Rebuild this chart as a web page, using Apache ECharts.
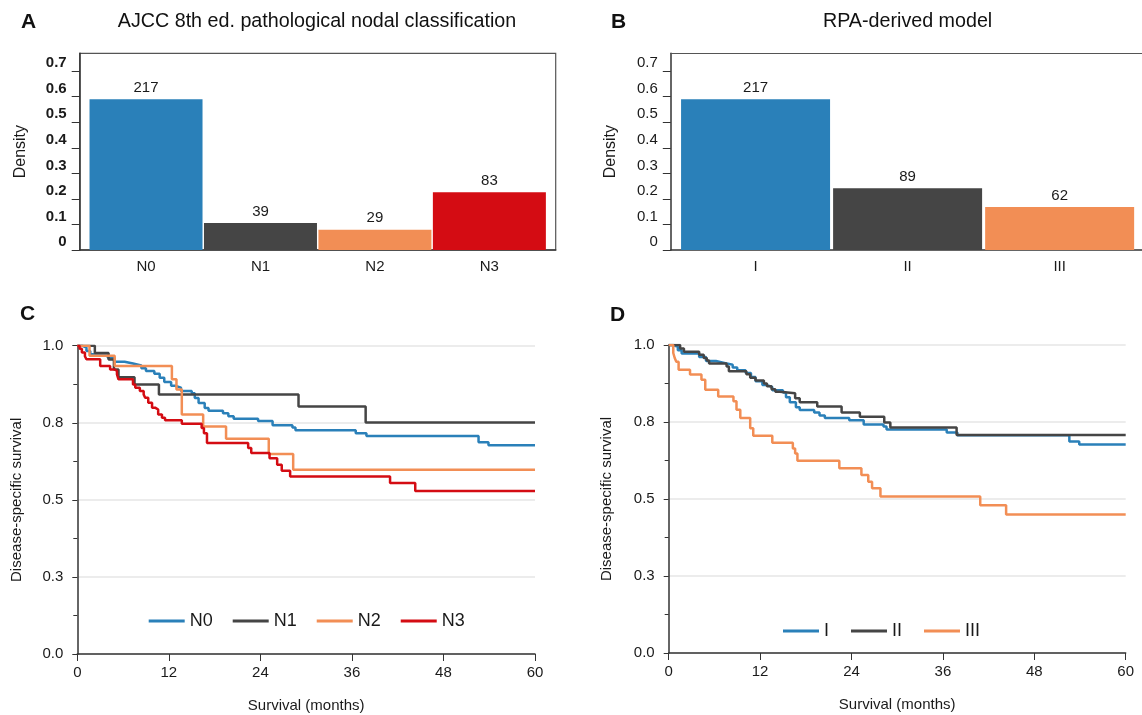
<!DOCTYPE html>
<html>
<head>
<meta charset="utf-8">
<script src="https://cdn.jsdelivr.net/npm/echarts@6/dist/echarts.min.js"></script>
<style>
  html, body { margin: 0; padding: 0; background: #fff; }
  #chart { width: 1142px; height: 715px; }
</style>
</head>
<body>
<div id="chart"></div>
<script>
// panel A / B: group sizes and densities
const catsA = ['N0', 'N1', 'N2', 'N3']
const countsA = [217, 39, 29, 83]
const densityA = [0.59, 0.106, 0.079, 0.226]

const catsB = ['I', 'II', 'III']
const countsB = [217, 89, 62]
const densityB = [0.59, 0.242, 0.168]

const densityTicks = [0, 0.1, 0.2, 0.3, 0.4, 0.5, 0.6, 0.7]

// panel C / D: Kaplan-Meier steps, [month, survival]
const survN0 = [[0, 1], [0.6, 0.994], [1.2, 0.983], [1.7, 0.972], [4.0, 0.961], [4.9, 0.948], [6.2, 0.942], [7.3, 0.936], [8.4, 0.927], [9.0, 0.918], [10.1, 0.909], [10.8, 0.896], [11.4, 0.882], [12.3, 0.870], [12.8, 0.864], [13.6, 0.853], [15.0, 0.846], [15.4, 0.830], [15.9, 0.814], [16.7, 0.798], [17.2, 0.789], [19.1, 0.781], [19.8, 0.771], [20.5, 0.763], [23.7, 0.756], [25.6, 0.742], [28.2, 0.735], [28.6, 0.726], [36.5, 0.716], [37.9, 0.707], [52.6, 0.687], [53.9, 0.677], [60, 0.677]]
const survN1 = [[0, 1], [2.3, 0.976], [4.1, 0.955], [4.8, 0.923], [5.4, 0.898], [7.5, 0.874], [10.7, 0.842], [29.0, 0.803], [37.8, 0.751], [60, 0.751]]
const survN2 = [[0, 1], [1.6, 0.967], [4.9, 0.934], [12.4, 0.891], [13.0, 0.858], [13.7, 0.777], [16.5, 0.738], [19.5, 0.698], [25.1, 0.649], [28.3, 0.598], [60, 0.598]]
const survN3 = [[0, 1], [0.3, 0.99], [0.6, 0.978], [1.0, 0.966], [1.2, 0.956], [3.0, 0.934], [4.3, 0.923], [4.9, 0.918], [5.2, 0.907], [5.4, 0.891], [7.3, 0.874], [7.6, 0.864], [8.2, 0.853], [8.7, 0.842], [8.9, 0.831], [9.3, 0.815], [9.8, 0.799], [10.2, 0.793], [10.6, 0.777], [11.1, 0.766], [11.5, 0.758], [13.7, 0.747], [16.3, 0.733], [16.6, 0.716], [17.0, 0.684], [22.4, 0.668], [22.8, 0.652], [25.2, 0.635], [26.2, 0.614], [26.8, 0.594], [27.9, 0.576], [41.0, 0.555], [44.3, 0.529], [60, 0.529]]

// group I is the same 217 patients as N0
const survI = survN0
const survII = [[0, 1], [1.5, 0.989], [2.0, 0.978], [4.0, 0.968], [4.6, 0.958], [5.0, 0.95], [5.3, 0.94], [7.6, 0.93], [7.9, 0.915], [10.2, 0.905], [10.7, 0.894], [11.4, 0.885], [12.5, 0.875], [12.9, 0.866], [13.5, 0.856], [14.0, 0.848], [14.6, 0.843], [16.6, 0.827], [17.2, 0.814], [19.5, 0.8], [22.7, 0.781], [25.1, 0.767], [28.3, 0.748], [29.1, 0.732], [37.8, 0.708], [60, 0.708]]
const survIII = [[0, 1], [0.6, 0.974], [0.8, 0.957], [1.0, 0.946], [1.3, 0.92], [2.8, 0.904], [4.3, 0.887], [4.8, 0.855], [6.5, 0.833], [8.5, 0.817], [8.9, 0.79], [9.4, 0.763], [10.7, 0.73], [11.1, 0.705], [13.6, 0.683], [16.3, 0.664], [16.6, 0.648], [16.9, 0.624], [22.4, 0.6], [25.3, 0.578], [26.2, 0.556], [26.7, 0.535], [27.8, 0.508], [40.9, 0.48], [44.3, 0.45], [60, 0.45]]

const COLORS = {
  blue: '#2a80b9',
  dark: '#454545',
  orange: '#f28e55',
  red: '#d40c13',
}
const FONT = "'Liberation Sans', Arial, sans-serif"
const TEXT = '#1a1a1a'
const AXIS = '#333333'
const FRAME = '#555555'

const chart = echarts.init(document.getElementById('chart'), null, { renderer: 'canvas' })

// bar panel axes (value x so the bars keep a small pad to the frame)
const barXAxis = (gridIndex, cats, min, max) => ({
  type: 'value',
  gridIndex,
  min,
  max,
  axisLine: { show: true, onZero: false, lineStyle: { color: AXIS, width: 1.5 } },
  axisTick: { show: false },
  splitLine: { show: false },
  axisLabel: {
    customValues: cats.map((c, i) => i + 0.5),
    formatter: (v) => cats[Math.round(v - 0.5)],
    fontSize: 15,
    color: TEXT,
    margin: 9,
  },
})

// top border of panel B (its right edge runs off the page)
const frameXAxis = (gridIndex, min, max) => ({
  type: 'value',
  gridIndex,
  position: 'top',
  min,
  max,
  axisLine: { show: true, onZero: false, lineStyle: { color: FRAME, width: 1.2 } },
  axisTick: { show: false },
  axisLabel: { show: false },
  splitLine: { show: false },
})

const barYAxis = (gridIndex, bold, nameGap) => ({
  type: 'value',
  gridIndex,
  min: 0,
  max: 0.77,
  name: 'Density',
  nameLocation: 'middle',
  nameGap,
  nameTextStyle: { fontSize: 16, color: TEXT },
  axisLine: { show: true, onZero: false, lineStyle: { color: AXIS, width: 1.5 } },
  axisTick: { show: true, length: 8, customValues: densityTicks, lineStyle: { color: AXIS } },
  splitLine: { show: false },
  axisLabel: {
    customValues: densityTicks,
    formatter: (v) => (v === 0 ? '0' : v.toFixed(1)),
    fontSize: 15,
    fontWeight: bold ? 'bold' : 'normal',
    color: TEXT,
    margin: 13,
    verticalAlign: 'bottom',
    lineHeight: 16,
  },
})

const kmXAxis = (gridIndex) => ({
  type: 'value',
  gridIndex,
  min: 0,
  max: 60,
  interval: 12,
  name: 'Survival (months)',
  nameLocation: 'middle',
  nameGap: 44,
  nameTextStyle: { fontSize: 15, color: TEXT },
  axisLine: { show: true, lineStyle: { color: AXIS, width: 1.5 } },
  axisTick: { show: true, length: 7, lineStyle: { color: AXIS } },
  splitLine: { show: false },
  axisLabel: { fontSize: 15, color: TEXT, margin: 11 },
})

const kmYAxis = (gridIndex, nameGap) => ({
  type: 'value',
  gridIndex,
  min: 0,
  max: 1,
  interval: 0.25,
  name: 'Disease-specific survival',
  nameLocation: 'middle',
  nameGap,
  nameTextStyle: { fontSize: 15, color: TEXT },
  axisLine: { show: true, lineStyle: { color: AXIS, width: 1.5 } },
  axisTick: { show: true, length: 5, lineStyle: { color: AXIS } },
  minorTick: { show: true, splitNumber: 2, length: 4, lineStyle: { color: AXIS } },
  splitLine: { show: true, lineStyle: { color: '#e6e6e6', width: 1.5 } },
  axisLabel: {
    formatter: (v) => v.toFixed(1),
    fontSize: 15,
    color: TEXT,
    margin: 14,
  },
})

const barSeries = (idx, cats, dens, counts, colors, width) => ({
  type: 'bar',
  xAxisIndex: idx,
  yAxisIndex: idx,
  barWidth: width,
  data: cats.map((c, i) => ({
    value: [i + 0.5, dens[i]],
    itemStyle: { color: colors[i] },
  })),
  label: {
    show: true,
    position: 'top',
    distance: 4,
    fontSize: 15,
    color: TEXT,
    formatter: (p) => counts[p.dataIndex],
  },
})

const kmSeries = (idx, name, data, color) => ({
  name,
  type: 'line',
  step: 'end',
  xAxisIndex: idx,
  yAxisIndex: idx,
  symbol: 'none',
  data,
  color,
  lineStyle: { color, width: 2.5 },
})

const kmLegend = (names, left, top, textWidth, itemGap) => ({
  data: names,
  left,
  top,
  padding: 0,
  icon: 'rect',
  itemWidth: 36,
  itemHeight: 3,
  itemGap,
  textStyle: { fontSize: 18, color: TEXT, width: textWidth },
})

const panelText = (text, x, y, size, bold, align) => ({
  type: 'text',
  x,
  y,
  style: {
    text,
    fill: '#111',
    font: `${bold ? 'bold ' : ''}${size}px ${FONT}`,
    textAlign: align,
    textVerticalAlign: 'middle',
    align,
    verticalAlign: 'middle',
  },
})

// B: 152.3px per group, same left pad as A; the frame's right side is off the page
const bMin = -0.0575
const bMax = bMin + 472 / 152.3

const option = {
  animation: false,
  backgroundColor: '#ffffff',
  textStyle: { fontFamily: FONT, color: TEXT },
  grid: [
    { left: 79.7, top: 53.3, width: 476, height: 196.7, show: true, borderColor: FRAME, borderWidth: 1.2 },
    { left: 670.8, top: 53.3, width: 472, height: 196.7 },
    { left: 77.3, top: 345.7, width: 457.7, height: 308.3 },
    { left: 668.7, top: 345, width: 457, height: 308 },
  ],
  xAxis: [
    barXAxis(0, catsA, -0.0795, 4.0795),
    barXAxis(1, catsB, bMin, bMax),
    kmXAxis(2),
    kmXAxis(3),
    frameXAxis(1, bMin, bMax),
  ],
  yAxis: [
    barYAxis(0, true, 51),
    barYAxis(1, false, 52),
    kmYAxis(2, 53),
    kmYAxis(3, 54.5),
  ],
  legend: [
    kmLegend(['N0', 'N1', 'N2', 'N3'], 148.7, 612, 23, 20),
    kmLegend(['I', 'II', 'III'], 783, 622, 28, 22),
  ],
  graphic: [
    panelText('A', 21, 22.5, 21, true, 'left'),
    panelText('AJCC 8th ed. pathological nodal classification', 317, 21.5, 19.7, false, 'center'),
    panelText('B', 611, 22.5, 21, true, 'left'),
    panelText('RPA-derived model', 907.6, 21.5, 19.7, false, 'center'),
    panelText('C', 20, 314, 21, true, 'left'),
    panelText('D', 610, 315, 21, true, 'left'),
  ],
  series: [
    barSeries(0, catsA, densityA, countsA, [COLORS.blue, COLORS.dark, COLORS.orange, COLORS.red], 113),
    barSeries(1, catsB, densityB, countsB, [COLORS.blue, COLORS.dark, COLORS.orange], 149),
    kmSeries(2, 'N0', survN0, COLORS.blue),
    kmSeries(2, 'N1', survN1, COLORS.dark),
    kmSeries(2, 'N2', survN2, COLORS.orange),
    kmSeries(2, 'N3', survN3, COLORS.red),
    kmSeries(3, 'I', survI, COLORS.blue),
    kmSeries(3, 'II', survII, COLORS.dark),
    kmSeries(3, 'III', survIII, COLORS.orange),
  ],
}

chart.setOption(option)
</script>
</body>
</html>
